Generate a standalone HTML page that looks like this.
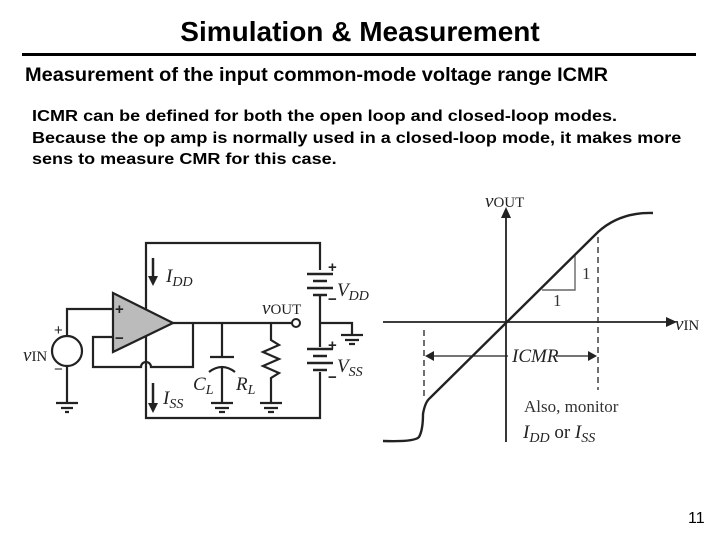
<!DOCTYPE html>
<html><head><style>
body{margin:0;width:720px;height:540px;background:#fff;position:relative;font-family:"Liberation Sans",sans-serif;overflow:hidden}
.t{position:absolute;font-weight:bold;color:#000;white-space:nowrap}
</style></head><body>
<div class="t" style="left:0;width:720px;top:16px;text-align:center;font-size:28px">Simulation &amp; Measurement</div>
<div style="position:absolute;left:22px;top:53px;width:674px;height:3px;background:#000"></div>
<div class="t" style="left:25px;top:65px;font-size:19px;transform-origin:0 0;transform:scaleX(1.05)">Measurement of the input common-mode voltage range ICMR</div>
<div class="t" style="left:32px;top:106px;font-size:16px;line-height:21.5px;transform-origin:0 0;transform:scaleX(1.127)">ICMR can be defined for both the open loop and closed-loop modes.<br>Because the op amp is normally used in a closed-loop mode, it makes more<br>sens to measure CMR for this case.</div>
<div class="t" style="left:688px;top:510px;font-size:16px;font-weight:normal">11</div>
<svg width="720" height="540" style="position:absolute;left:0;top:0" font-family="Liberation Serif,serif">
<g stroke="#222" stroke-width="2.2" fill="none">
<path d="M146 412 V243 H320 V418 H146 V412"/>
<path d="M173 323 H292"/>
<path d="M193 323 V367 H151 A5 5 0 0 0 141 367 H93 V337 H113"/>
<path d="M113 309 H67 V336 M67 366 V403"/>
<path d="M56 403 H78 M61 408 H73 M65 412 H69"/>
<path d="M222 323 V357 M210 357 H234 M209 372 Q222 362 235 372 M222 366 V403 M211 403 H233 M215 408 H229 M219 412 H225"/>
<path d="M271 323 V340 L279 345 L263 352 L279 359 L263 366 L279 373 L271 378 V403 M260 403 H282 M264 408 H278 M268 412 H274"/>
<path d="M320 323 H352 V335 M341 335 H363 M345 340 H359 M349 344 H355"/>
</g>
<g fill="#fff" stroke="#222" stroke-width="2.2">
<rect x="306" y="270" width="28" height="25" stroke="none"/>
<rect x="306" y="347" width="28" height="25" stroke="none"/>
</g>
<g stroke="#222" stroke-width="2.5">
<path d="M307 274 H333 M313 281 H327 M307 288 H333 M313 295 H327"/>
<path d="M307 349 H333 M313 356 H327 M307 363 H333 M313 370 H327"/>
<path d="M153 258 V278 M153 383 V405"/>
</g>
<path d="M148 276 L153 286 L158 276Z M148 403 L153 413 L158 403Z" fill="#222"/>
<circle cx="67" cy="351" r="15" fill="#fff" stroke="#222" stroke-width="2.2"/>
<circle cx="296" cy="323" r="4" fill="#fff" stroke="#222" stroke-width="2"/>
<path d="M113 293 L173 323 L113 352Z" fill="#bbb" stroke="#222" stroke-width="2.2"/>
<g font-size="15" font-weight="bold" font-family="Liberation Sans,sans-serif" fill="#222">
<text x="115" y="314">+</text><text x="115" y="343">−</text>
<text x="328" y="272">+</text><text x="328" y="304">−</text>
<text x="328" y="350">+</text><text x="328" y="382">−</text>
<text x="54" y="335" font-weight="normal">+</text><text x="54" y="374" font-weight="normal">−</text>
</g>
<g font-size="19" font-style="italic" fill="#222">
<text x="166" y="282">I<tspan font-size="14" dy="4">DD</tspan></text>
<text x="163" y="404">I<tspan font-size="14" dy="4">SS</tspan></text>
<text x="193" y="390">C<tspan font-size="14" dy="4">L</tspan></text>
<text x="236" y="390">R<tspan font-size="14" dy="4">L</tspan></text>
<text x="337" y="296">V<tspan font-size="14" dy="4">DD</tspan></text>
<text x="337" y="372">V<tspan font-size="14" dy="4">SS</tspan></text>
<text x="262" y="314">v<tspan font-style="normal" font-size="15">OUT</tspan></text>
<text x="23" y="361">v<tspan font-style="normal" font-size="15">IN</tspan></text>
<text x="485" y="207">v<tspan font-style="normal" font-size="15">OUT</tspan></text>
<text x="675" y="330">v<tspan font-style="normal" font-size="15">IN</tspan></text>
<text x="512" y="362">ICMR</text>
<text x="523" y="438">I<tspan font-size="14" dy="4">DD</tspan><tspan font-style="normal" dy="-4"> or </tspan>I<tspan font-size="14" dy="4">SS</tspan></text>
</g>
<g font-size="17" fill="#333"><text x="524" y="412">Also, monitor</text><text x="582" y="279">1</text><text x="553" y="306">1</text></g>
<g stroke="#222" stroke-width="1.8" fill="none">
<path d="M506 442 V218 M383 322 H666"/>
<path d="M542 290 H575 V256" stroke="#666" stroke-width="1.4"/>
<path d="M424 330 V398 M598 237 V390" stroke-dasharray="6 4" stroke-width="1.3"/>
<path d="M434 356 H508 M556 356 H588" stroke-width="1.3"/>
</g>
<path d="M425 356 L434 351 L434 361Z M597 356 L588 351 L588 361Z" fill="#222"/>
<path d="M501 218 L506 207 L511 218Z M666 317 L677 322 L666 327Z" fill="#222"/>
<path d="M383 441 Q415 442 419 437 Q423 430 423 414 Q425 402 430 398 L598 232 Q620 212 653 213" stroke="#222" stroke-width="2.4" fill="none"/>
</svg>
</body></html>
